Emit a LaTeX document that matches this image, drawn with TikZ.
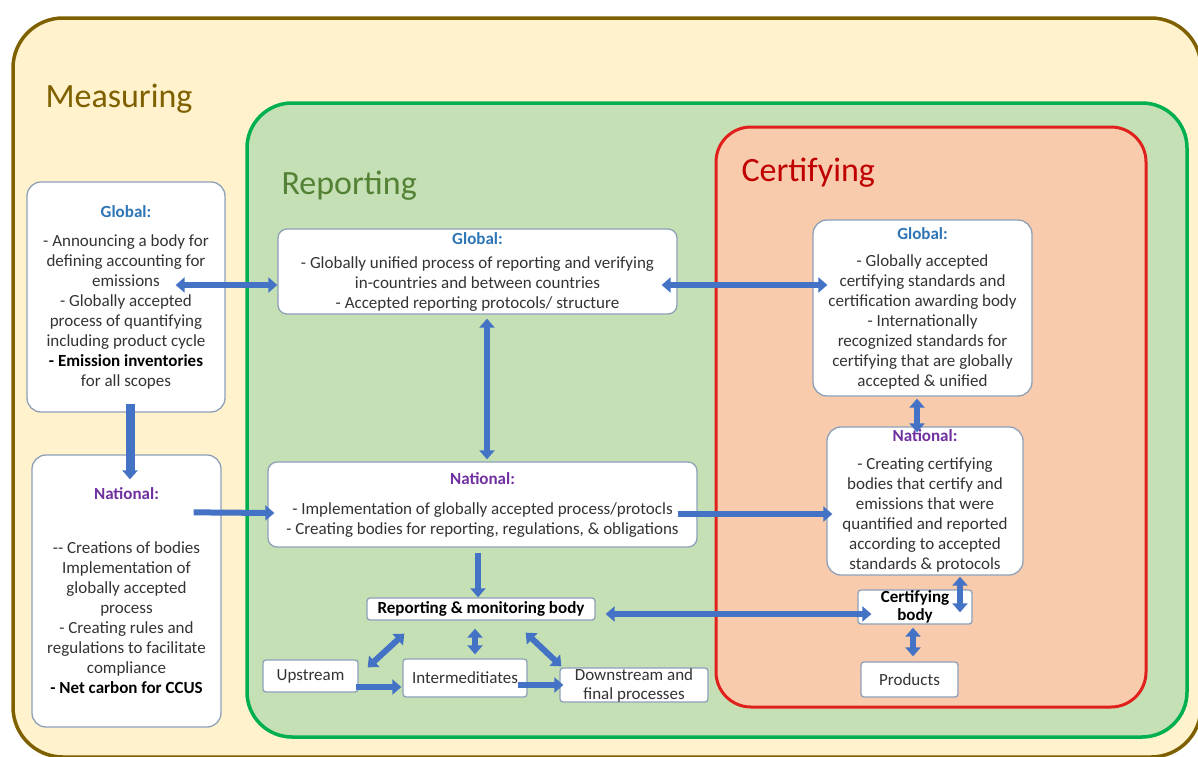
\documentclass[tikz,border=0pt]{standalone}
\usepackage{fontspec}
\setmainfont{Carlito}
\usepackage{tikz}
\usetikzlibrary{arrows.meta}
\usetikzlibrary{calc}

\definecolor{measfill}{HTML}{FFF2CC}
\definecolor{measdraw}{HTML}{7F6000}
\definecolor{repfill}{HTML}{C5E0B4}
\definecolor{repdraw}{HTML}{00B050}
\definecolor{reptext}{HTML}{548235}
\definecolor{certfill}{HTML}{F8CBAD}
\definecolor{certdraw}{HTML}{E0201C}
\definecolor{certtext}{HTML}{C00000}
\definecolor{boxdraw}{HTML}{8EA0B8}
\definecolor{bodytext}{HTML}{333333}
\definecolor{globalblue}{HTML}{2E75B6}
\definecolor{natpurple}{HTML}{7030A0}
\definecolor{arrowblue}{HTML}{4472C4}

\newcommand{\glob}{\textbf{\color{globalblue}Global:}}
\newcommand{\natl}{\textbf{\color{natpurple}National:}}

\begin{document}
\begin{tikzpicture}[x=1pt,y=-1pt]

\tikzstyle{region}=[line width=3.5pt]
\tikzstyle{title}=[anchor=base west,font=\fontsize{34}{40}\selectfont]
\tikzstyle{textbox}=[draw=boxdraw,fill=white,line width=1.3pt,rounded corners=14pt,align=center,inner sep=0pt,text=bodytext,font=\fontsize{17}{20}\selectfont]
\tikzstyle{smallbox}=[textbox,rounded corners=3pt]
\tikzstyle{flow}=[draw=arrowblue,line width=6pt,-{Triangle[width=15pt,length=9pt]}]
\tikzstyle{flowboth}=[flow,{Triangle[width=15pt,length=9pt]}-{Triangle[width=15pt,length=9pt]}]

\useasboundingbox (0,0) rectangle (1198,756);
\clip (0,0) rectangle (1198,756);

% MEASURING
\draw [region,draw=measdraw,fill=measfill,rounded corners=50pt] (13,18) rectangle (1201,757);
\node (meas) [title,text=measdraw] at (42,107) {Measuring};

% REPORTING
\draw [region,draw=repdraw,fill=repfill,rounded corners=45pt] (247,103) rectangle (1187,737);
\node (rep) [title,text=reptext] at (278,194) {Reporting};

% CERTIFYING
\draw [region,line width=3pt,draw=certdraw,fill=certfill,rounded corners=35pt] (716,127) rectangle (1146,707);
\node (cert) [title,text=certtext] at (738,181) {Certifying};

% MEASURING BOXES
\node (MG) [textbox,minimum width=198pt,minimum height=230pt] at (126,297) {\glob\\[9pt]- Announcing a body for\\defining accounting for\\emissions\\- Globally accepted\\process of quantifying\\including product cycle\\\textbf{\color{black}- Emission inventories}\\for all scopes};
\node (MN) [textbox,minimum width=189pt,minimum height=272pt] at (126.5,591) {\natl\\[34pt]-{}- Creations of bodies\\Implementation of\\globally accepted\\process\\- Creating rules and\\regulations to facilitate\\compliance\\\textbf{\color{black}- Net carbon for CCUS}};

% REPORTING BOXES
\node (RG) [textbox,rounded corners=9pt,minimum width=399pt,minimum height=85pt] at (477.5,271.5) {\glob\\[4pt]- Globally unified process of reporting and verifying\\in-countries and between countries\\- Accepted reporting protocols/ structure};
\node (RN) [textbox,rounded corners=9pt,minimum width=429pt,minimum height=85pt] at (482.5,504.5) {\natl\\[10pt]- Implementation of globally accepted process/protocls\\- Creating bodies for reporting, regulations, \& obligations};
\node (RMB) [smallbox,minimum width=228pt,minimum height=22pt,text=black,font=\bfseries\fontsize{17}{20}\selectfont] at (481,609) {Reporting \& monitoring body};
\node (UP) [smallbox,minimum width=95pt,minimum height=32pt] at (310.5,676) {Upstream};
\node (IN) [smallbox,minimum width=124pt,minimum height=38pt] at (465,678) {Intermeditiates};
\node (DN) [smallbox,minimum width=148pt,minimum height=34pt,font=\fontsize{17}{19}\selectfont] at (634,685) {Downstream and\\final processes};

% CERTIFYING BOXES
\node (CG) [textbox,minimum width=219pt,minimum height=176pt] at (922.5,308) {\glob\\[7pt]- Globally accepted\\certifying standards and\\certification awarding body\\- Internationally\\recognized standards for\\certifying that are globally\\accepted \& unified};
\node (CN) [textbox,minimum width=196pt,minimum height=148pt] at (925,501) {\natl\\[8pt]- Creating certifying\\bodies that certify and\\emissions that were\\quantified and reported\\according to accepted\\standards \& protocols};
\node (CB) [smallbox,minimum width=114pt,minimum height=34pt,text=black,font=\bfseries\fontsize{17}{18}\selectfont] at (915,607) {Certifying\\body};
\node (PR) [smallbox,minimum width=97pt,minimum height=35pt] at (909.5,679.5) {Products};

% ARROWS
\draw [flowboth] ([xshift=-50pt,yshift=12pt]MG.east) -- ([yshift=-13.5pt]RG.west);
\draw [flow,line width=9pt] ([xshift=4pt,yshift=9pt]MG.south) -- ([xshift=3.5pt,yshift=-25pt]MN.north);
\draw [flow] ([xshift=-28pt,yshift=-58pt]MN.north east) -- ([xshift=7pt,yshift=-8.5pt]RN.west);
\draw [flowboth] ([xshift=9.5pt,yshift=-4pt]RG.south) -- ([xshift=4.5pt,yshift=2pt]RN.north);
\draw [flowboth] ([xshift=-16pt,yshift=-13.5pt]RG.east) -- ([xshift=15pt,yshift=23pt]CG.west);
\draw [flow] ([xshift=-20pt,yshift=-9.5pt]RN.east) -- ([xshift=6pt,yshift=-13pt]CN.west);
\draw [flow] ([xshift=-4.5pt,yshift=-5pt]RN.south) -- ([xshift=-3pt]RMB.north);
\draw [flowboth] ([xshift=10pt,yshift=-5pt]RMB.east) -- ([xshift=14pt,yshift=-7pt]CB.west);
\draw [flowboth] ([xshift=-5.5pt,yshift=-2pt]CG.south) -- ([xshift=-8pt,yshift=-6pt]CN.north);
\draw [flowboth] ([xshift=35pt,yshift=-1pt]CN.south) -- ([xshift=45pt,yshift=-23pt]CB.north);
\draw [flowboth] ([xshift=-2pt,yshift=-3pt]CB.south) -- ([xshift=3.5pt,yshift=5pt]PR.north);
\draw [flowboth] ([xshift=38pt,yshift=-13pt]RMB.south west) -- ([xshift=9pt,yshift=-8pt]UP.north east);
\draw [flowboth] ([xshift=-6pt,yshift=-8pt]RMB.south) -- ([xshift=10pt,yshift=4pt]IN.north);
\draw [flowboth] ([xshift=-70pt,yshift=-12pt]RMB.south east) -- ([xshift=2pt,yshift=1pt]DN.north west);
\draw [flow] ([xshift=-3pt,yshift=-11pt]UP.east) -- ([xshift=-1pt,yshift=-9pt]IN.west);
\draw [flow] ([xshift=-10pt,yshift=-7pt]IN.east) -- ([xshift=4pt]DN.west);

\end{tikzpicture}
\end{document}
